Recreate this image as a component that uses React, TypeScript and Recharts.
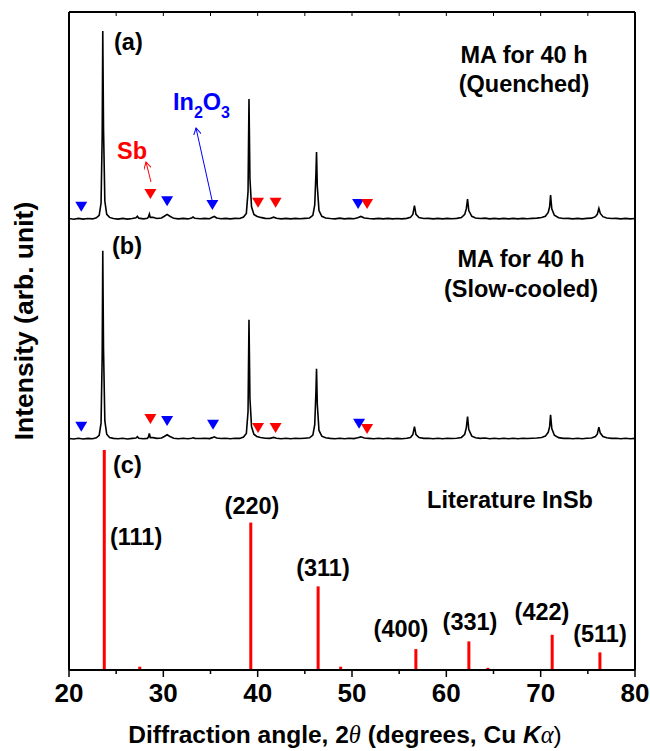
import React from "react";
import { ComposedChart, Line, Scatter, XAxis, YAxis, ReferenceLine } from "recharts";

// 2θ (deg) vs relative intensity (strongest peak = 100)
const quenched: [number, number][] = [
  [20.0, 0.8], [20.5, 0.4], [21.0, 0.9], [21.5, 0.5], [22.0, 0.8], [22.5, 0.6], [22.9, 1.2], [23.2, 2.5],
  [23.4, 9], [23.52, 45], [23.58, 100], [23.66, 48], [23.8, 10], [24.0, 3], [24.3, 1.4], [24.7, 0.8],
  [25.2, 0.5], [25.7, 0.9], [26.2, 0.5], [26.7, 0.8], [27.1, 1.2], [27.25, 2.0], [27.4, 1.0], [27.9, 0.6],
  [28.3, 0.9], [28.42, 1.6], [28.52, 3.2], [28.62, 1.4], [28.9, 1.5], [29.3, 0.8], [29.8, 1.1], [30.1, 2.0],
  [30.4, 3.0], [30.7, 2.0], [31.1, 0.9], [31.6, 0.6], [32.1, 0.9], [32.6, 0.6], [33.0, 1.1], [33.15, 1.6],
  [33.35, 0.9], [33.9, 0.7], [34.4, 0.9], [34.9, 0.7], [35.2, 1.5], [35.4, 1.9], [35.65, 1.1], [36.1, 0.7],
  [36.6, 0.9], [37.1, 0.6], [37.6, 0.9], [38.1, 0.8], [38.5, 1.6], [38.8, 3.5], [38.98, 15], [39.08, 64],
  [39.18, 22], [39.35, 7], [39.6, 3], [39.9, 2], [40.3, 1.4], [40.8, 0.9], [41.3, 0.8], [41.7, 1.5],
  [42.0, 0.9], [42.5, 0.6], [43.0, 0.9], [43.5, 0.6], [44.0, 0.9], [44.5, 0.7], [45.0, 0.9], [45.5, 1.1],
  [45.85, 2.5], [46.05, 8], [46.18, 25], [46.24, 36], [46.32, 18], [46.5, 5], [46.8, 2], [47.2, 1.1],
  [47.7, 0.8], [48.2, 0.6], [48.7, 1.0], [49.2, 0.6], [49.7, 0.9], [50.2, 0.7], [50.6, 1.2], [50.95, 1.9],
  [51.3, 1.1], [51.8, 0.8], [52.3, 0.6], [52.8, 0.9], [53.3, 0.6], [53.8, 0.9], [54.3, 0.6], [54.8, 0.8],
  [55.3, 0.6], [55.8, 0.9], [56.2, 1.4], [56.45, 3], [56.62, 7.6], [56.78, 3], [57.1, 1.3], [57.6, 0.8],
  [58.1, 0.9], [58.6, 0.6], [59.1, 0.9], [59.6, 0.6], [60.1, 0.9], [60.6, 0.7], [61.1, 0.9], [61.6, 1.3],
  [61.95, 3], [62.12, 6], [62.25, 11.1], [62.38, 5], [62.7, 2], [63.1, 1.1], [63.6, 0.8], [64.1, 1.0],
  [64.6, 0.6], [65.1, 0.9], [65.6, 0.6], [66.1, 0.9], [66.6, 0.6], [67.1, 0.9], [67.6, 0.6], [68.1, 0.9],
  [68.6, 0.7], [69.1, 0.9], [69.6, 1.0], [70.1, 1.3], [70.5, 2], [70.8, 4], [70.95, 7], [71.05, 13.2],
  [71.18, 6], [71.45, 2.5], [71.9, 1.2], [72.4, 0.8], [72.9, 0.9], [73.4, 0.6], [73.9, 0.9], [74.4, 0.6],
  [74.9, 0.9], [75.4, 1.0], [75.8, 1.8], [76.0, 3], [76.17, 6.2], [76.32, 3.5], [76.6, 1.8], [77.0, 1.1],
  [77.5, 0.8], [78.0, 0.9], [78.5, 0.6], [79.0, 0.9], [79.5, 0.6], [80.0, 0.8],
];

const slowCooled: [number, number][] = [
  [20.0, 0.7], [20.5, 0.5], [21.0, 0.9], [21.5, 0.5], [22.0, 0.8], [22.5, 0.6], [22.9, 1.1], [23.2, 2.4],
  [23.4, 9], [23.52, 45], [23.58, 100], [23.66, 48], [23.8, 10], [24.0, 3], [24.3, 1.3], [24.7, 0.8],
  [25.2, 0.6], [25.7, 0.9], [26.2, 0.5], [26.7, 0.8], [27.1, 1.0], [27.25, 1.7], [27.4, 0.9], [27.9, 0.6],
  [28.3, 0.8], [28.42, 1.5], [28.52, 3.4], [28.62, 1.2], [28.9, 1.2], [29.3, 0.8], [29.8, 1.0], [30.1, 1.8],
  [30.4, 2.7], [30.7, 1.8], [31.1, 0.9], [31.6, 0.6], [32.1, 0.9], [32.6, 0.6], [33.0, 0.9], [33.15, 1.1],
  [33.35, 0.8], [33.9, 0.7], [34.4, 0.9], [34.9, 0.7], [35.2, 1.2], [35.4, 1.6], [35.65, 1.0], [36.1, 0.7],
  [36.6, 0.9], [37.1, 0.6], [37.6, 0.9], [38.1, 0.8], [38.5, 1.5], [38.8, 3.4], [38.98, 15], [39.08, 63.5],
  [39.18, 22], [39.35, 7], [39.6, 3], [39.9, 1.8], [40.3, 1.3], [40.8, 0.9], [41.3, 0.8], [41.7, 1.3],
  [42.0, 0.9], [42.5, 0.6], [43.0, 0.9], [43.5, 0.6], [44.0, 0.9], [44.5, 0.7], [45.0, 0.9], [45.5, 1.1],
  [45.85, 2.5], [46.05, 8], [46.18, 26], [46.24, 37.6], [46.32, 19], [46.5, 5], [46.8, 2], [47.2, 1.1],
  [47.7, 0.8], [48.2, 0.6], [48.7, 0.9], [49.2, 0.6], [49.7, 0.9], [50.2, 0.7], [50.6, 1.1], [50.95, 1.6],
  [51.3, 1.0], [51.8, 0.8], [52.3, 0.6], [52.8, 0.9], [53.3, 0.6], [53.8, 0.9], [54.3, 0.6], [54.8, 0.8],
  [55.3, 0.6], [55.8, 0.9], [56.2, 1.3], [56.45, 2.8], [56.62, 7], [56.78, 2.8], [57.1, 1.2], [57.6, 0.8],
  [58.1, 0.9], [58.6, 0.6], [59.1, 0.9], [59.6, 0.6], [60.1, 0.9], [60.6, 0.7], [61.1, 0.9], [61.6, 1.3],
  [61.95, 3], [62.12, 6.5], [62.25, 12.3], [62.38, 5.5], [62.7, 2], [63.1, 1.1], [63.6, 0.8], [64.1, 1.0],
  [64.6, 0.6], [65.1, 0.9], [65.6, 0.6], [66.1, 0.9], [66.6, 0.6], [67.1, 0.9], [67.6, 0.6], [68.1, 0.9],
  [68.6, 0.7], [69.1, 0.9], [69.6, 1.0], [70.1, 1.3], [70.5, 2], [70.8, 4], [70.95, 7], [71.05, 13.2],
  [71.18, 6], [71.45, 2.5], [71.9, 1.2], [72.4, 0.8], [72.9, 0.9], [73.4, 0.6], [73.9, 0.9], [74.4, 0.6],
  [74.9, 0.9], [75.4, 1.0], [75.8, 1.8], [76.0, 3], [76.17, 6.7], [76.32, 3.6], [76.6, 1.8], [77.0, 1.1],
  [77.5, 0.8], [78.0, 0.9], [78.5, 0.6], [79.0, 0.9], [79.5, 0.6], [80.0, 0.8],
];

// phase markers: [2θ, height above trace baseline in relative units]
const sbQuenched: [number, number][] = [[28.63, 13.8], [40.04, 9.2], [41.9, 9.2], [51.6, 8.5]];
const in2o3Quenched: [number, number][] = [[21.3, 7], [30.4, 10], [35.2, 8], [50.65, 8.5]];
const sbSlow: [number, number][] = [[28.63, 11], [40.04, 6.3], [41.9, 6.3], [51.6, 5.8]];
const in2o3Slow: [number, number][] = [[21.3, 7], [30.4, 10], [35.27, 8], [50.75, 8.5]];

// literature InSb stick pattern
const litPos = [23.74, 27.5, 39.27, 46.41, 48.8, 56.77, 62.39, 64.4, 71.22, 76.28];
const litInt = [100, 1.5, 67, 38, 1.5, 9.5, 13, 1, 16, 8];

const xMajor = [20, 30, 40, 50, 60, 70, 80];
const xTicks = [20, 25, 30, 35, 40, 45, 50, 55, 60, 65, 70, 75, 80];

// vertical stacking of the three patterns (axis units)
const Y_MAX = 34;
const OFFSET_A = 23.25;
const OFFSET_B = 11.89;
const TRACE_SCALE = 0.0977;
const STICK_SCALE = 0.1137;

const FONT = "'Liberation Sans', Arial, sans-serif";
const RED = "#ff0000";
const BLUE = "#0000ff";

const toPts = (arr: [number, number][], off: number) =>
  arr.map(([x, y]) => ({ x, y: off + y * TRACE_SCALE }));

const tri = (color: string) => (props: any) => {
  const { cx, cy } = props;
  return (
    <polygon
      points={`${cx - 6},${cy - 5} ${cx + 6},${cy - 5} ${cx},${cy + 5}`}
      fill={color}
    />
  );
};

const BottomTick = (props: any) => {
  const { x, y, payload } = props;
  const major = xMajor.includes(payload.value);
  return (
    <g>
      <line x1={x} x2={x} y1={y} y2={y + (major ? 7 : 4)} stroke="#000" strokeWidth={1.5} />
      {major && (
        <text x={x} y={y + 32} textAnchor="middle" fontFamily={FONT} fontWeight="bold" fontSize={26} fill="#000">
          {payload.value}
        </text>
      )}
    </g>
  );
};

const TopTick = (props: any) => {
  const { x, y } = props;
  return <line x1={x} x2={x} y1={y} y2={y + 4} stroke="#000" strokeWidth={1} />;
};

const yTicks = Array.from({ length: Y_MAX + 1 }, (_, i) => i);

const txt = { fontFamily: FONT, fontWeight: "bold" as const, fontSize: 23.5, fill: "#000" };

export default function App() {
  const a = toPts(quenched, OFFSET_A);
  const b = toPts(slowCooled, OFFSET_B);
  return (
    <div style={{ position: "absolute", left: 0, top: 0, width: 650, height: 751, background: "#fff" }}>
      <ComposedChart width={650} height={751} margin={{ top: 2, right: 5, bottom: 51, left: 59 }}>
        <XAxis
          xAxisId="bottom"
          type="number"
          dataKey="x"
          domain={[20, 80]}
          ticks={xTicks}
          allowDataOverflow
          height={30}
          tickSize={0}
          tickMargin={0}
          tickLine={false}
          axisLine={{ stroke: "#000", strokeWidth: 2 }}
          tick={<BottomTick />}
          interval={0}
        />
        <XAxis
          xAxisId="top"
          orientation="top"
          type="number"
          dataKey="x"
          domain={[20, 80]}
          ticks={xTicks}
          allowDataOverflow
          height={10}
          tickSize={0}
          tickMargin={0}
          tickLine={false}
          axisLine={{ stroke: "#000", strokeWidth: 2 }}
          tick={<TopTick />}
          interval={0}
        />
        <YAxis
          yAxisId="left"
          type="number"
          dataKey="y"
          domain={[0, Y_MAX]}
          ticks={yTicks}
          allowDataOverflow
          width={10}
          tick={false}
          tickSize={3}
          tickLine={{ stroke: "#000", strokeWidth: 1 }}
          axisLine={{ stroke: "#000", strokeWidth: 2 }}
          interval={0}
        />
        <YAxis
          yAxisId="right"
          orientation="right"
          type="number"
          domain={[0, Y_MAX]}
          ticks={yTicks}
          allowDataOverflow
          width={10}
          tick={false}
          tickSize={3}
          tickLine={{ stroke: "#000", strokeWidth: 1 }}
          axisLine={{ stroke: "#000", strokeWidth: 2 }}
          interval={0}
        />
        {litPos.map((x, i) => (
          <ReferenceLine
            key={x}
            xAxisId="bottom"
            yAxisId="left"
            segment={[{ x, y: 0 }, { x, y: litInt[i] * STICK_SCALE }]}
            stroke={RED}
            strokeWidth={3}
            ifOverflow="visible"
          />
        ))}
        <Line xAxisId="bottom" yAxisId="left" data={b} dataKey="y" type="linear" dot={false}
          stroke="#000" strokeWidth={1.6} isAnimationActive={false} />
        <Line xAxisId="bottom" yAxisId="left" data={a} dataKey="y" type="linear" dot={false}
          stroke="#000" strokeWidth={1.6} isAnimationActive={false} />
        <Scatter xAxisId="bottom" yAxisId="left" data={toPts(in2o3Quenched, OFFSET_A)} dataKey="y"
          shape={tri(BLUE)} isAnimationActive={false} />
        <Scatter xAxisId="bottom" yAxisId="left" data={toPts(sbQuenched, OFFSET_A)} dataKey="y"
          shape={tri(RED)} isAnimationActive={false} />
        <Scatter xAxisId="bottom" yAxisId="left" data={toPts(in2o3Slow, OFFSET_B)} dataKey="y"
          shape={tri(BLUE)} isAnimationActive={false} />
        <Scatter xAxisId="bottom" yAxisId="left" data={toPts(sbSlow, OFFSET_B)} dataKey="y"
          shape={tri(RED)} isAnimationActive={false} />
      </ComposedChart>

      <svg width={650} height={751} style={{ position: "absolute", left: 0, top: 0, pointerEvents: "none" }}>
        <defs>
          <marker id="headR" markerWidth="8" markerHeight="8" refX="7" refY="4" orient="auto">
            <path d="M0,0 L7,4 L0,8" fill="none" stroke={RED} strokeWidth={1} />
          </marker>
          <marker id="headB" markerWidth="8" markerHeight="8" refX="7" refY="4" orient="auto">
            <path d="M0,0 L7,4 L0,8" fill="none" stroke={BLUE} strokeWidth={1} />
          </marker>
        </defs>
        <text x={114} y={50} {...txt}>(a)</text>
        <text x={524} y={63} textAnchor="middle" {...txt}>MA for 40 h</text>
        <text x={524} y={92} textAnchor="middle" {...txt}>(Quenched)</text>
        <text x={112} y={254} {...txt}>(b)</text>
        <text x={521} y={267} textAnchor="middle" {...txt}>MA for 40 h</text>
        <text x={521} y={297} textAnchor="middle" {...txt}>(Slow-cooled)</text>
        <text x={113} y={473} {...txt}>(c)</text>
        <text x={510} y={508} textAnchor="middle" {...txt}>Literature InSb</text>
        <text x={110} y={545} {...txt}>(111)</text>
        <text x={252} y={514} textAnchor="middle" {...txt}>(220)</text>
        <text x={323} y={576} textAnchor="middle" {...txt}>(311)</text>
        <text x={401} y={637} textAnchor="middle" {...txt}>(400)</text>
        <text x={470} y={630} textAnchor="middle" {...txt}>(331)</text>
        <text x={542} y={620} textAnchor="middle" {...txt}>(422)</text>
        <text x={600} y={642} textAnchor="middle" {...txt}>(511)</text>

        <text x={132} y={159} textAnchor="middle" {...txt} fill={RED}>Sb</text>
        <line x1={151} y1={182} x2={146} y2={162} stroke={RED} strokeWidth={1} markerEnd="url(#headR)" />
        <text x={173} y={110} {...txt} fill={BLUE}>
          In<tspan fontSize={16} dy={8}>2</tspan><tspan dy={-8}>O</tspan><tspan fontSize={16} dy={8}>3</tspan>
        </text>
        <line x1={212} y1={200} x2={196} y2={128} stroke={BLUE} strokeWidth={1} markerEnd="url(#headB)" />

        <text transform="translate(33,321) rotate(-90)" textAnchor="middle" {...txt} fontSize={26.5}>
          Intensity (arb. unit)
        </text>
        <text x={345} y={743} textAnchor="middle" {...txt} fontSize={24.5}>
          Diffraction angle, 2
          <tspan fontFamily="'Liberation Serif', serif" fontStyle="italic" fontWeight="normal">θ</tspan>
          {" (degrees, Cu "}
          <tspan fontStyle="italic">K</tspan>
          <tspan fontFamily="'Liberation Serif', serif" fontStyle="italic" fontWeight="normal">α</tspan>
          <tspan fontWeight="normal">)</tspan>
        </text>
      </svg>
    </div>
  );
}
